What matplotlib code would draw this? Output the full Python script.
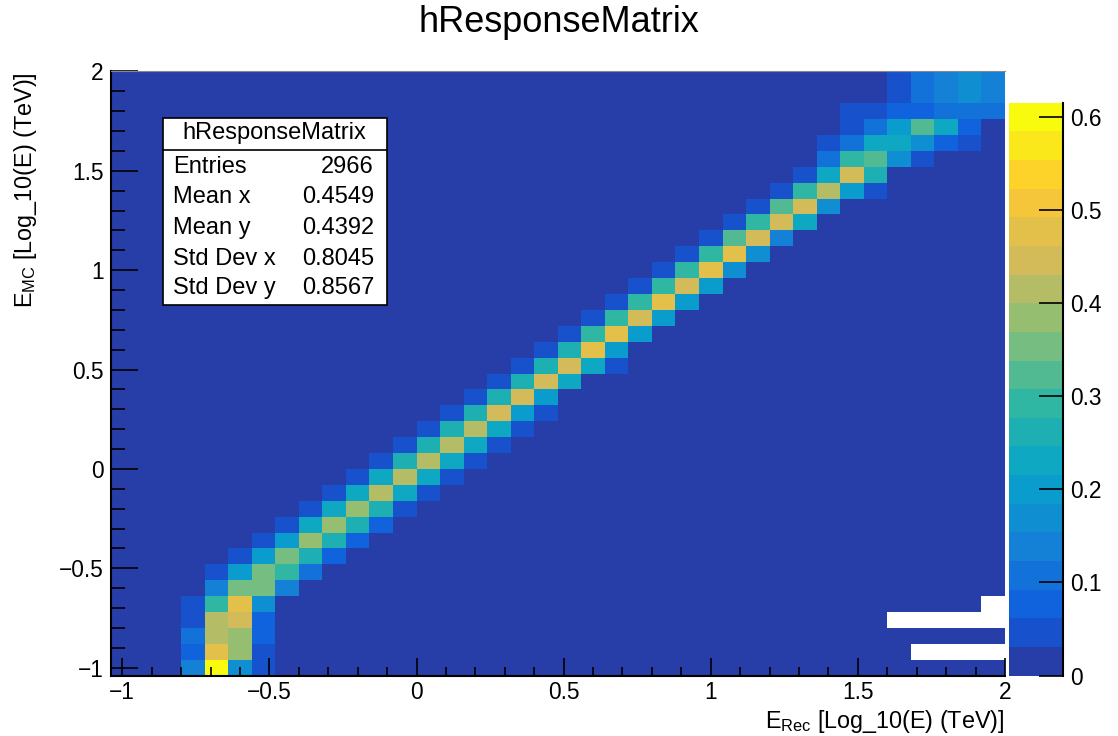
import numpy as np
import matplotlib
matplotlib.use("Agg")
import matplotlib.pyplot as plt
from matplotlib.colors import LinearSegmentedColormap, ListedColormap, BoundaryNorm
from matplotlib.patches import Rectangle
from matplotlib.lines import Line2D

plt.rcParams['font.family'] = ['Liberation Sans', 'DejaVu Sans']
plt.rcParams['mathtext.fontset'] = 'custom'
plt.rcParams['mathtext.rm'] = 'Liberation Sans'
plt.rcParams['mathtext.default'] = 'rm'

# 38 x 38 bins in log10(E/TeV), same binning on both axes
n_bins = 38
e_low, e_high = -1.04, 2.0

# for every E_Rec bin: first filled E_MC bin and the contents going upwards
first_row = [None, None, None, 0, 0, 0, 0, 5, 6, 7, 8, 9, 10, 11, 12, 13, 14, 15, 16,
             18, 19, 19, 21, 22, 23, 24, 25, 26, 27, 28, 29, 30, 30, 32, 32, 33, 33, 35]
column_values = [
    [], [], [],
    [0.138, 0.077, 0.108, 0.046, 0.046],
    [0.615, 0.477, 0.415, 0.415, 0.292, 0.138, 0.046],
    [0.169, 0.384, 0.384, 0.446, 0.477, 0.354, 0.200, 0.046],
    [0.046, 0.046, 0.077, 0.077, 0.169, 0.354, 0.354, 0.200, 0.046],
    [0.138, 0.292, 0.354, 0.200, 0.046],
    [0.108, 0.261, 0.384, 0.231, 0.046],
    [0.077, 0.261, 0.384, 0.231, 0.046],
    [0.077, 0.261, 0.384, 0.231, 0.046],
    [0.077, 0.261, 0.415, 0.231, 0.046],
    [0.046, 0.231, 0.415, 0.261, 0.046],
    [0.046, 0.231, 0.415, 0.261, 0.046],
    [0.046, 0.231, 0.415, 0.261, 0.046],
    [0.046, 0.231, 0.415, 0.261, 0.046],
    [0.046, 0.231, 0.446, 0.261, 0.046],
    [0.046, 0.200, 0.446, 0.261, 0.046],
    [0.046, 0.200, 0.446, 0.261, 0.046],
    [0.231, 0.446, 0.261, 0.046],
    [0.231, 0.477, 0.292, 0.046],
    [0.046, 0.200, 0.477, 0.292, 0.046],
    [0.200, 0.446, 0.292, 0.046],
    [0.200, 0.477, 0.292, 0.046],
    [0.200, 0.446, 0.292, 0.046],
    [0.200, 0.477, 0.292, 0.046],
    [0.169, 0.477, 0.323, 0.046],
    [0.169, 0.446, 0.292, 0.046],
    [0.138, 0.446, 0.323, 0.046],
    [0.231, 0.446, 0.292, 0.046],
    [0.169, 0.415, 0.231, 0.108, 0.046],
    [0.200, 0.446, 0.292, 0.108, 0.046, 0.046],
    [0.046, 0.261, 0.323, 0.231, 0.108, 0.046],
    [0.169, 0.231, 0.200, 0.077, 0.046, 0.046],
    [0.046, 0.169, 0.323, 0.077, 0.108, 0.108],
    [0.077, 0.231, 0.108, 0.138, 0.138],
    [0.046, 0.077, 0.108, 0.169, 0.169],
    [0.108, 0.138, 0.138],
]
background = 0.005

# bins left empty (E_MC row, E_Rec column)
empty_rows = [1, 1, 1, 1, 3, 3, 3, 3, 3, 4]
empty_cols = [34, 35, 36, 37, 33, 34, 35, 36, 37, 37]

x_ticks = [-1, -0.5, 0, 0.5, 1, 1.5, 2]
x_tick_labels = ['\u22121', '\u22120.5', '0', '0.5', '1', '1.5', '2']
z_ticks = [0, 0.1, 0.2, 0.3, 0.4, 0.5, 0.6]
z_tick_labels = ['0', '0.1', '0.2', '0.3', '0.4', '0.5', '0.6']

stats_title = 'hResponseMatrix'
stats_names = ['Entries', 'Mean x', 'Mean y', 'Std Dev x', 'Std Dev y']
stats_values = ['2966', '0.4549', '0.4392', '0.8045', '0.8567']

# fill the matrix
Z = np.full((n_bins, n_bins), background)
for col, (r0, vals) in enumerate(zip(first_row, column_values)):
    if r0 is None:
        continue
    Z[r0:r0 + len(vals), col] = vals
Z[empty_rows, empty_cols] = np.nan
Z = np.ma.masked_invalid(Z)
edges = np.linspace(e_low, e_high, n_bins + 1)

# ROOT "bird" palette, 20 contour levels
stops = [0.0, 0.125, 0.25, 0.375, 0.5, 0.625, 0.75, 0.875, 1.0]
red = [0.2082, 0.0592, 0.0780, 0.0232, 0.1802, 0.5301, 0.8186, 0.9956, 0.9764]
green = [0.1664, 0.3599, 0.5041, 0.6419, 0.7178, 0.7492, 0.7328, 0.7862, 0.9832]
blue = [0.5293, 0.8684, 0.8385, 0.7914, 0.6425, 0.4662, 0.3499, 0.1968, 0.0539]
bird = LinearSegmentedColormap.from_list('bird', list(zip(stops, zip(red, green, blue))))
n_levels = 20
palette = ListedColormap(bird((np.arange(n_levels) + 1) / n_levels))
z_max = Z.max()
norm = BoundaryNorm(np.linspace(0, z_max, n_levels + 1), n_levels)

W, H = 1118, 736
fig = plt.figure(figsize=(W / 100, H / 100), dpi=100)
fig.patch.set_facecolor('white')

ax = fig.add_axes([110.5 / W, 1 - 675.6 / H, 894.5 / W, 604.2 / H])
mesh = ax.pcolormesh(edges, edges, Z, cmap=palette, norm=norm,
                     antialiased=False, linewidth=0)
ax.set_xlim(e_low, e_high)
ax.set_ylim(e_low, e_high)
ax.set_facecolor('white')

ax.set_xticks(x_ticks)
ax.set_xticklabels(x_tick_labels)
ax.set_yticks(x_ticks)
ax.set_yticklabels(x_tick_labels)
ax.set_xticks(np.arange(-1, 2.01, 0.1), minor=True)
ax.set_yticks(np.arange(-1, 2.01, 0.1), minor=True)
ax.tick_params(axis='both', which='both', direction='in', color='black',
               width=1.2, labelsize=16.4, top=False, right=False)
ax.tick_params(axis='x', which='major', length=13, pad=4)
ax.tick_params(axis='x', which='minor', length=6.5)
ax.tick_params(axis='y', which='major', length=19.5, pad=5)
ax.tick_params(axis='y', which='minor', length=10)
for side in ['left', 'bottom']:
    ax.spines[side].set_linewidth(1.5)
    ax.spines[side].set_color('black')
ax.spines['top'].set_color('#888888')
ax.spines['top'].set_linewidth(0.8)
ax.spines['right'].set_visible(False)

# palette axis
cax = fig.add_axes([1009.5 / W, 1 - 675.6 / H, 53.5 / W, (675.6 - 102.7) / H])
cb = fig.colorbar(mesh, cax=cax, ticks=z_ticks)
cb.set_ticklabels(z_tick_labels)
cb.minorticks_off()
cb.outline.set_visible(False)
cax.tick_params(axis='y', direction='in', length=17, width=1.2, color='black',
                labelsize=16.4, pad=5)
cax.plot([1, 1], [0, 1], transform=cax.transAxes, color='black', lw=1.5,
         clip_on=False)

# titles
fig.text(0.5, 1 - 22 / H, 'hResponseMatrix', ha='center', va='center', fontsize=26)
fig.text(1005 / W, 1 - 728 / H, r'E$_{\mathrm{Rec}}$ [Log_10(E) (TeV)]',
         ha='right', va='baseline', fontsize=16.8)
fig.text(25.5 / W, 1 - 72 / H, r'E$_{\mathrm{MC}}$ [Log_10(E) (TeV)]',
         ha='center', va='top', rotation=90, fontsize=16.8)

# statistics box
bx0, bx1 = 162.7 / W, 386.7 / W
by0, by1 = 1 - 305 / H, 1 - 117.7 / H
fig.add_artist(Rectangle((bx0, by0), bx1 - bx0, by1 - by0, transform=fig.transFigure,
                         facecolor='white', edgecolor='black', lw=1.2, zorder=5))
sep = 1 - 149.5 / H
fig.add_artist(Line2D([bx0, bx1], [sep, sep], transform=fig.transFigure,
                      color='black', lw=1.2, zorder=6))
fig.text((bx0 + bx1) / 2, 1 - 133.5 / H, stats_title, ha='center', va='center',
         fontsize=17, zorder=7)
row_y = [166.7, 196.7, 228, 259, 288]
for name, val, yy in zip(stats_names, stats_values, row_y):
    fig.text(173.3 / W, 1 - yy / H, name, ha='left', va='center', fontsize=17, zorder=7)
    fig.text(374 / W, 1 - yy / H, val, ha='right', va='center', fontsize=17, zorder=7)

fig.savefig('out.png', dpi=100)
